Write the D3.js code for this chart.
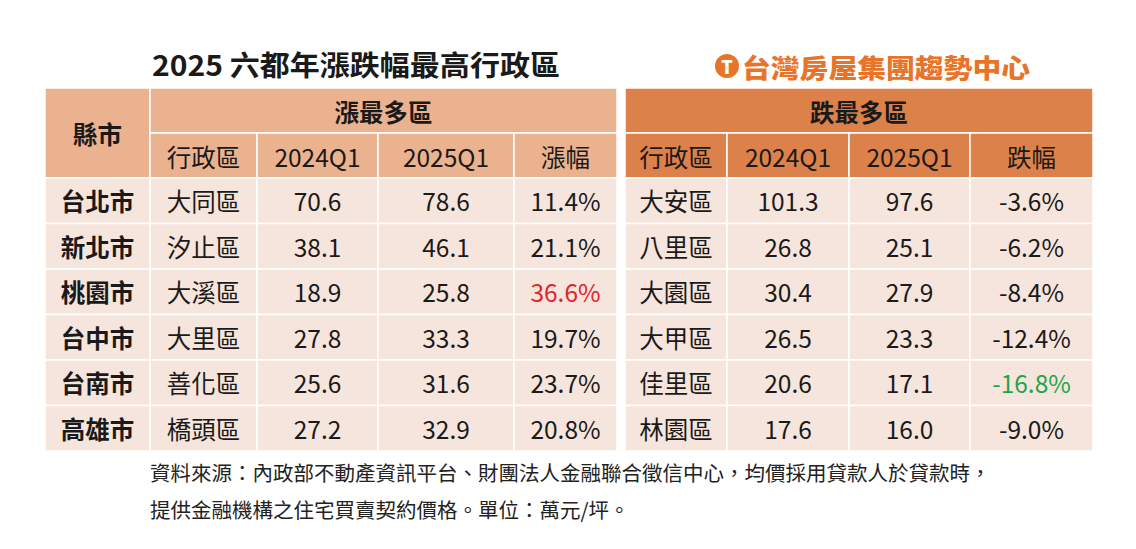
<!DOCTYPE html>
<html><head><meta charset="utf-8">
<script src="https://cdn.jsdelivr.net/npm/d3@7"></script>
<style>body{margin:0;background:#fff}</style>
</head><body><div id="chart"></div>
<script>
const cities = ['台北市', '新北市', '桃園市', '台中市', '台南市', '高雄市']
const upDistricts = ['大同區', '汐止區', '大溪區', '大里區', '善化區', '橋頭區']
const up2024 = [70.6, 38.1, 18.9, 27.8, 25.6, 27.2]
const up2025 = [78.6, 46.1, 25.8, 33.3, 31.6, 32.9]
const upPct = [11.4, 21.1, 36.6, 19.7, 23.7, 20.8]
const downDistricts = ['大安區', '八里區', '大園區', '大甲區', '佳里區', '林園區']
const down2024 = [101.3, 26.8, 30.4, 26.5, 20.6, 17.6]
const down2025 = [97.6, 25.1, 27.9, 23.3, 17.1, 16.0]
const downPct = [-3.6, -6.2, -8.4, -12.4, -16.8, -9.0]
const subHeads = ['行政區', '2024Q1', '2025Q1']

const font = "'Noto Sans CJK TC', 'Noto Sans', sans-serif"
const svg = d3.select('#chart').append('svg').attr('width', 1136).attr('height', 549)

// column edges
const edges = [45, 150, 257, 378, 514, 617, 625, 727, 849, 970, 1093]
const rowTop = 178, rowH = 45.5
const y = d3.scaleBand().domain(d3.range(cities.length)).range([rowTop, rowTop + rowH * cities.length])

function cell (x0, x1, y0, y1, fill) {
  svg.append('rect').attr('x', x0).attr('y', y0).attr('width', x1 - x0).attr('height', y1 - y0)
    .attr('fill', fill).attr('stroke', '#fff').attr('stroke-width', 1.5)
}
function txt (x, yy, s, opts = {}) {
  svg.append('text').attr('x', x).attr('y', yy).attr('text-anchor', 'middle')
    .attr('dominant-baseline', 'central').attr('font-family', font)
    .attr('font-size', opts.size || 24.5).attr('font-weight', opts.bold ? 700 : 400)
    .attr('fill', opts.color || '#1a1a1a').text(s)
}
const mid = (i) => (edges[i] + edges[i + 1]) / 2

// title + logo
svg.append('text').attr('x', 152).attr('y', 64).attr('dominant-baseline', 'central')
  .attr('font-family', font).attr('font-weight', 700).attr('font-size', 28).attr('fill', '#1a1a1a')
  .attr('textLength', 408).attr('lengthAdjust', 'spacingAndGlyphs').text('2025 六都年漲跌幅最高行政區')
svg.append('circle').attr('cx', 727).attr('cy', 66).attr('r', 12).attr('fill', '#e8742a')
svg.append('text').attr('x', 727).attr('y', 66).attr('text-anchor', 'middle').attr('dominant-baseline', 'central')
  .attr('font-family', font).attr('font-weight', 900).attr('font-size', 18).attr('fill', '#fff').text('T')
svg.append('text').attr('x', 742).attr('y', 66).attr('dominant-baseline', 'central')
  .attr('font-family', font).attr('font-weight', 900).attr('font-size', 26).attr('fill', '#e8742a')
  .attr('textLength', 288).attr('lengthAdjust', 'spacingAndGlyphs').text('台灣房屋集團趨勢中心')

// headers
const upHead = '#ebb28f', downHead = '#dd814a', body = '#f6e5dc'
cell(edges[0], edges[1], 88, 178, upHead)
txt(mid(0), 133, '縣市', {bold: true})
cell(edges[1], edges[5], 88, 133, upHead)
txt((edges[1] + edges[5]) / 2, 111, '漲最多區', {bold: true})
cell(edges[6], edges[10], 88, 133, downHead)
txt((edges[6] + edges[10]) / 2, 111, '跌最多區', {bold: true})
subHeads.concat(['漲幅']).forEach((s, i) => { cell(edges[i + 1], edges[i + 2], 133, 178, upHead); txt(mid(i + 1), 156, s) })
subHeads.concat(['跌幅']).forEach((s, i) => { cell(edges[i + 6], edges[i + 7], 133, 178, downHead); txt(mid(i + 6), 156, s) })

// body rows
const maxUp = d3.max(upPct), minDown = d3.min(downPct)
cities.forEach((c, r) => {
  const y0 = y(r), y1 = y0 + y.bandwidth(), cy = y0 + y.bandwidth() / 2
  const cols = [
    [c, {bold: true}],
    [upDistricts[r]], [up2024[r].toFixed(1)], [up2025[r].toFixed(1)],
    [upPct[r].toFixed(1) + '%', upPct[r] === maxUp ? {color: '#e0262b'} : {}],
    null,
    [downDistricts[r]], [down2024[r].toFixed(1)], [down2025[r].toFixed(1)],
    [downPct[r].toFixed(1) + '%', downPct[r] === minDown ? {color: '#1ea64a'} : {}]
  ]
  cols.forEach((d, i) => {
    if (!d) return
    cell(edges[i], edges[i + 1], y0, y1, body)
    txt(mid(i), cy, d[0], d[1] || {})
  })
})

// source note
const note = ['資料來源：內政部不動產資訊平台、財團法人金融聯合徵信中心，均價採用貸款人於貸款時，',
  '提供金融機構之住宅買賣契約價格。單位：萬元/坪。']
note.forEach((s, i) => {
  svg.append('text').attr('x', 150).attr('y', 472 + i * 37).attr('dominant-baseline', 'central')
    .attr('font-family', font).attr('font-size', 20.5).attr('fill', '#222').text(s)
})
</script></body></html>
